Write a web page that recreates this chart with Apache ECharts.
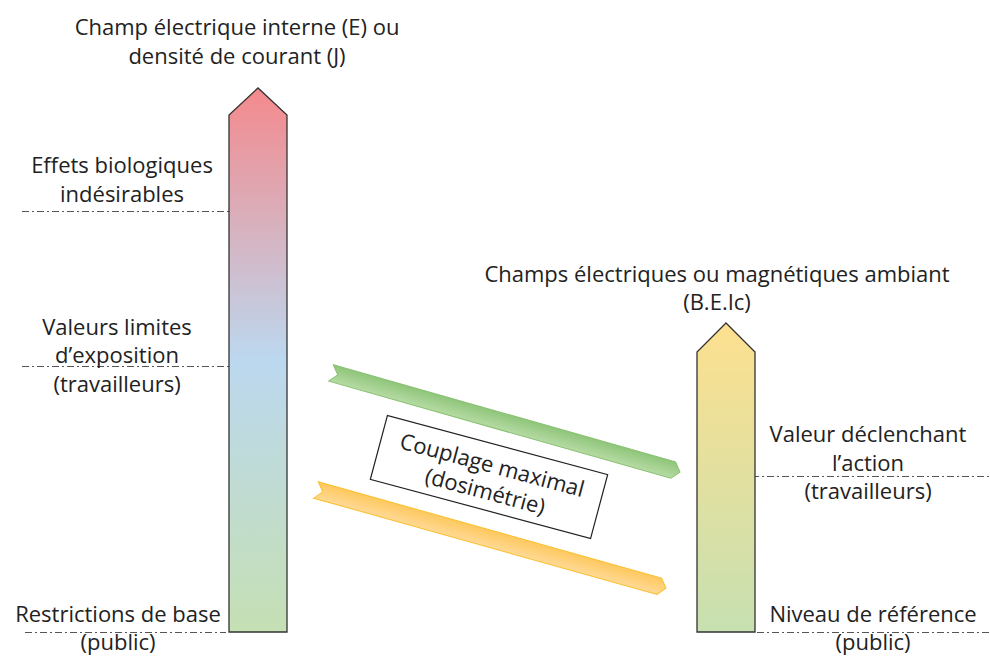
<!DOCTYPE html>
<html>
<head>
<meta charset="utf-8">
<script src="https://cdn.jsdelivr.net/npm/echarts@6/dist/echarts.min.js"></script>
<style>html,body{margin:0;padding:0;background:#fff;}</style>
</head>
<body>
<div id="main" style="width:990px;height:657px;"></div>
<script>
// scale columns: [xLeft, xRight, tipY, shoulderY, baseY]
var columns = [[229, 287, 88, 115, 632], [697, 755, 323, 352, 632]];
// threshold marks: [xFrom, xTo, y]
var thresholds = [[22, 229, 211], [22, 229, 366], [25, 226, 632], [752, 990, 476], [757, 990, 632]];
// coupling ribbons: [xStart, yStart, xTip, yTip]
var ribbons = [[331, 373, 680, 472], [316, 490, 666, 588]];
// labels: [text, xCenter, yCenter, lineHeight]
var labels = [
  ['Champ électrique interne (E) ou\ndensité de courant (J)', 237, 40.5, 28.5],
  ['Effets biologiques\nindésirables', 122, 178.5, 28.5],
  ['Valeurs limites\nd’exposition\n(travailleurs)', 117, 354, 28.5],
  ['Restrictions de base\n(public)', 118, 627, 28],
  ['Champs électriques ou magnétiques ambiant\n(B.E.Ic)', 717, 287, 28.5],
  ['Valeur déclenchant\nl’action\n(travailleurs)', 868, 461.5, 28.5],
  ['Niveau de référence\n(public)', 873, 627, 28]
];
// rotated box: [xCenter, yCenter, width, height, angleDeg]
var boxes = [[489, 477, 228, 66, -15]];
var boxText = ['Couplage maximal\n(dosimétrie)'];

var columnFills = [
  new echarts.graphic.LinearGradient(0, 0, 0, 1, [
    { offset: 0, color: '#f4898c' },
    { offset: 0.5, color: '#bcd8ef' },
    { offset: 1, color: '#c5e0b3' }
  ]),
  new echarts.graphic.LinearGradient(0, 0, 0, 1, [
    { offset: 0, color: '#fde08f' },
    { offset: 1, color: '#c7e0b1' }
  ])
];
// gradients run across the ribbon width (local coords)
var ribbonFills = [
  new echarts.graphic.LinearGradient(0, 0, 0, 1, [
    { offset: 0, color: '#8fc57a' },
    { offset: 1, color: '#b6dba4' }
  ]),
  new echarts.graphic.LinearGradient(0, 0, 0, 1, [
    { offset: 0, color: '#fdc85e' },
    { offset: 1, color: '#ffd995' }
  ])
];
var ribbonStrokes = ['#88c172', '#fbbf2a'];
var font = '"Open Sans", sans-serif';

var chart = echarts.init(document.getElementById('main'), null, { renderer: 'svg' });

var option = {
  animation: false,
  backgroundColor: '#fff',
  grid: { left: 0, right: 0, top: 0, bottom: 0 },
  xAxis: { type: 'value', min: 0, max: 990, show: false },
  yAxis: { type: 'value', min: 0, max: 657, inverse: true, show: false },
  series: [
    {
      type: 'lines',
      coordinateSystem: 'cartesian2d',
      silent: true,
      lineStyle: { color: '#555', width: 1, type: [7, 3, 2, 3], opacity: 1 },
      data: thresholds.map(function (t) {
        return { coords: [[t[0], t[2]], [t[1], t[2]]] };
      })
    },
    {
      type: 'custom',
      silent: true,
      data: columns,
      renderItem: function (params, api) {
        var x0 = api.value(0), x1 = api.value(1), tip = api.value(2), sh = api.value(3), base = api.value(4);
        var pts = [
          api.coord([x0, base]), api.coord([x0, sh]), api.coord([(x0 + x1) / 2, tip]),
          api.coord([x1, sh]), api.coord([x1, base])
        ];
        return {
          type: 'polygon',
          shape: { points: pts },
          style: { fill: columnFills[params.dataIndex], stroke: '#333', lineWidth: 1.3 }
        };
      }
    },
    {
      type: 'custom',
      silent: true,
      data: ribbons,
      renderItem: function (params, api) {
        var s = api.coord([api.value(0), api.value(1)]);
        var e = api.coord([api.value(2), api.value(3)]);
        var dx = e[0] - s[0], dy = e[1] - s[1];
        var len = Math.sqrt(dx * dx + dy * dy);
        var hw = 8.5, d = 7;
        return {
          type: 'group',
          x: s[0], y: s[1],
          rotation: -Math.atan2(dy, dx),
          children: [{
            type: 'polygon',
            shape: { points: [[0, -hw], [len - d, -hw], [len, 0], [len - d, hw], [0, hw], [d, 0]] },
            style: { fill: ribbonFills[params.dataIndex], stroke: ribbonStrokes[params.dataIndex], lineWidth: 1 }
          }]
        };
      }
    },
    {
      type: 'custom',
      silent: true,
      data: boxes,
      renderItem: function (params, api) {
        var c = api.coord([api.value(0), api.value(1)]);
        var sz = api.size([api.value(2), api.value(3)]);
        return {
          type: 'group',
          x: c[0], y: c[1],
          rotation: api.value(4) * Math.PI / 180,
          children: [
            {
              type: 'rect',
              shape: { x: -sz[0] / 2, y: -sz[1] / 2, width: sz[0], height: sz[1] },
              style: { fill: '#fff', stroke: '#222', lineWidth: 1.2 }
            },
            {
              type: 'text',
              x: 0, y: 0,
              style: {
                text: boxText[params.dataIndex], fill: '#222', font: '22px ' + font,
                align: 'center', verticalAlign: 'middle', lineHeight: 27
              }
            }
          ]
        };
      }
    },
    {
      type: 'custom',
      silent: true,
      data: labels.map(function (l) { return [l[1], l[2]]; }),
      renderItem: function (params, api) {
        var c = api.coord([api.value(0), api.value(1)]);
        var l = labels[params.dataIndex];
        return {
          type: 'text',
          x: c[0], y: c[1],
          style: {
            text: l[0], fill: '#222', font: '22px ' + font,
            align: 'center', verticalAlign: 'middle', lineHeight: l[3]
          }
        };
      }
    }
  ]
};
chart.setOption(option);
</script>
</body>
</html>
